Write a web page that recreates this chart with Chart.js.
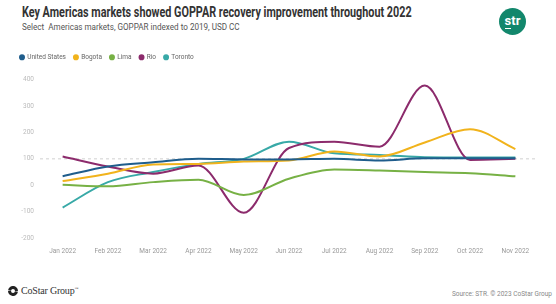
<!DOCTYPE html>
<html>
<head>
<meta charset="utf-8">
<script src="https://cdn.jsdelivr.net/npm/chart.js@4.4.0/dist/chart.umd.min.js"></script>
<style>
  html, body { margin: 0; padding: 0; background: #fff; }
  body { width: 556px; height: 304px; position: relative; overflow: hidden; font-family: Roboto, "Noto Sans", sans-serif; }
  #title { position: absolute; left: 22px; top: 4px; font-size: 14.5px; font-weight: 700; color: #333; white-space: nowrap; transform-origin: left top; transform: scaleX(0.745); }
  #subtitle { position: absolute; left: 22px; top: 22px; font-size: 9px; color: #555; white-space: nowrap; transform-origin: left top; transform: scaleX(0.9); }
  #logo { position: absolute; left: 499px; top: 8px; width: 27px; height: 27px; border-radius: 50%; background: #12876c; color: #fff; font-size: 13px; font-weight: 700; text-align: center; line-height: 25px; }
  #logo span { border-bottom: 1.5px solid #fff; }
  #wrap { position: absolute; left: 0; top: 46px; width: 556px; height: 218px; }
  #costar { position: absolute; left: 8px; top: 285px; font-family: "Liberation Serif", serif; font-size: 10px; letter-spacing: -0.2px; color: #333; white-space: nowrap; }
  #costar svg { vertical-align: -2px; margin-right: 3px; }
  #source { position: absolute; right: 4px; top: 290px; font-size: 6.5px; color: #888; white-space: nowrap; }
</style>
</head>
<body>
<div id="title">Key Americas markets showed GOPPAR recovery improvement throughout 2022</div>
<div id="subtitle">Select&nbsp; Americas markets, GOPPAR indexed to 2019, USD CC</div>
<div id="logo"><span>s</span>tr</div>
<div id="wrap"><canvas id="chart"></canvas></div>
<div id="costar"><svg width="10" height="10" viewBox="0 0 10 10"><g fill="#222"><path d="M5 0 A5 5 0 0 1 10 5 L7 5 A2 2 0 0 0 5 3 Z"/><path d="M10 5 A5 5 0 0 1 5 10 L5 7 A2 2 0 0 0 7 5 Z" transform="rotate(8 5 5)"/><path d="M5 10 A5 5 0 0 1 0 5 L3 5 A2 2 0 0 0 5 7 Z"/><path d="M0 5 A5 5 0 0 1 5 0 L5 3 A2 2 0 0 0 3 5 Z" transform="rotate(8 5 5)"/></g></svg>CoStar Group<sup style="font-size:4px">™</sup></div>
<div id="source">Source: STR. © 2023 CoStar Group</div>

<script>
const months = ["Jan 2022", "Feb 2022", "Mar 2022", "Apr 2022", "May 2022", "Jun 2022",
                "Jul 2022", "Aug 2022", "Sep 2022", "Oct 2022", "Nov 2022"];

const united_states = [34, 71, 87, 100, 98, 98, 100, 94, 102, 102, 102];
const bogota = [16, 44, 79, 81, 90, 94, 128, 109, 162, 212, 137];
const lima = [2, -4, 12, 21, -37, 25, 60, 56, 50, 46, 34];
const rio = [109, 71, 44, 75, -104, 141, 165, 146, 377, 96, 100];
const toronto = [-84, 12, 50, 81, 100, 165, 121, 115, 106, 105, 105];

const y_ticks = [-200, -100, 0, 100, 200, 300, 400];
const baseline = 100;

// dashed line at the 2019 index level
const baselinePlugin = {
    id: "baseline",
    beforeDatasetsDraw(chart){
        const ctx = chart.ctx;
        const area = chart.chartArea;
        const y = chart.scales.y.getPixelForValue(baseline);
        ctx.save();
        ctx.strokeStyle = "#d0d0d0";
        ctx.lineWidth = 1;
        ctx.setLineDash([3, 3]);
        ctx.beginPath();
        ctx.moveTo(area.left, y);
        ctx.lineTo(area.right, y);
        ctx.stroke();
        ctx.restore();
    }
};

// extra room under the legend
const legendSpace = {
    id: "legendSpace",
    beforeInit(chart){
        const fit = chart.legend.fit;
        chart.legend.fit = function(){
            fit.bind(chart.legend)();
            this.height += 9;
        };
    }
};

function makeSet(label, data, color){
    return {
        label: label,
        data: data,
        borderColor: color,
        backgroundColor: color,
        borderWidth: 2,
        pointRadius: 0,
        cubicInterpolationMode: "monotone",
        fill: false
    };
}

new Chart(document.getElementById("chart"), {
    type: "line",
    data: {
        labels: months,
        datasets: [
            makeSet("United States", united_states, "#1f5d8c"),
            makeSet("Bogota", bogota, "#f1b31c"),
            makeSet("Lima", lima, "#77b145"),
            makeSet("Rio", rio, "#8c2b6c"),
            makeSet("Toronto", toronto, "#38a9a7")
        ]
    },
    plugins: [baselinePlugin, legendSpace],
    options: {
        responsive: true,
        maintainAspectRatio: false,
        animation: false,
        layout: { padding: { left: 12, right: 18, top: 0, bottom: 0 } },
        plugins: {
            legend: {
                position: "top",
                align: "start",
                labels: {
                    usePointStyle: true,
                    pointStyle: "circle",
                    pointStyleWidth: 4,
                    boxWidth: 4,
                    boxHeight: 3,
                    padding: 8,
                    color: "#666",
                    font: { family: "Roboto", size: 6.5 }
                }
            },
            tooltip: { enabled: false }
        },
        scales: {
            x: {
                offset: true,
                grid: { display: false, drawTicks: false },
                border: { display: false },
                ticks: {
                    color: "#999",
                    padding: 9,
                    maxRotation: 0,
                    font: { family: "Roboto", size: 6.5 }
                }
            },
            y: {
                min: -200,
                max: 400,
                afterBuildTicks(scale){
                    scale.ticks = y_ticks.map(v => ({ value: v }));
                },
                afterFit(scale){
                    scale.width = 28;
                },
                grid: { display: false, drawTicks: false },
                border: { display: false },
                ticks: {
                    color: "#bbb",
                    padding: 6,
                    font: { family: "Roboto", size: 6.5 }
                }
            }
        }
    }
});
</script>
</body>
</html>
